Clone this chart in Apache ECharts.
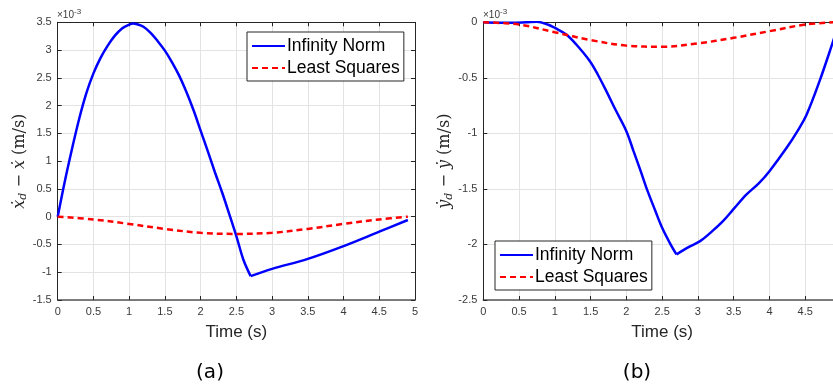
<!DOCTYPE html>
<html>
<head>
<meta charset="utf-8">
<script src="https://cdn.jsdelivr.net/npm/echarts@6/dist/echarts.min.js"></script>
<style>
html,body{margin:0;padding:0;background:#fff;}
#c{width:833px;height:391px;}
</style>
</head>
<body>
<div id="c"></div>
<script>
// ---- data (values in units of 1e-3 m/s) ----
const seriesNames = ['Infinity Norm', 'Least Squares'];

// (a) x-velocity error — Infinity Norm, before and after the switching point at t = 2.7 s
const tA_inf1 = [0, 0.1, 0.2, 0.3, 0.4, 0.5, 0.6, 0.7, 0.8, 0.9, 1.0, 1.06, 1.1, 1.2, 1.3, 1.4, 1.5, 1.6, 1.7, 1.8, 1.9, 2.0, 2.1, 2.2, 2.3, 2.4, 2.5, 2.6, 2.7];
const vA_inf1 = [0, 0.64, 1.22, 1.76, 2.22, 2.58, 2.86, 3.08, 3.26, 3.39, 3.46, 3.48, 3.47, 3.42, 3.31, 3.16, 2.99, 2.78, 2.54, 2.25, 1.92, 1.55, 1.18, 0.8, 0.44, 0.05, -0.35, -0.78, -1.07];
const tA_inf2 = [2.7, 3.0, 3.5, 4.0, 4.5, 4.9];
const vA_inf2 = [-1.07, -0.94, -0.76, -0.53, -0.27, -0.06];
const tA_ls = [0, 0.5, 1.0, 1.5, 2.0, 2.5, 3.0, 3.5, 4.0, 4.5, 4.9];
const vA_ls = [0, -0.05, -0.13, -0.22, -0.29, -0.31, -0.29, -0.22, -0.13, -0.05, 0];

// (b) y-velocity error — Infinity Norm, before and after t = 2.7 s
const tB_inf1 = [0, 0.2, 0.4, 0.6, 0.75, 0.9, 1.0, 1.16, 1.3, 1.49, 1.6, 1.72, 1.85, 2.0, 2.1, 2.2, 2.28, 2.4, 2.5, 2.61, 2.7];
const vB_inf1 = [0, -0.004, -0.004, 0.0, 0.004, -0.02, -0.05, -0.11, -0.2, -0.35, -0.47, -0.62, -0.79, -0.98, -1.16, -1.34, -1.49, -1.69, -1.85, -1.99, -2.09];
const tB_inf2 = [2.7, 2.85, 3.03, 3.2, 3.35, 3.5, 3.68, 3.85, 4.0, 4.24, 4.4, 4.52, 4.7, 4.88, 4.95];
const vB_inf2 = [-2.09, -2.03, -1.97, -1.88, -1.79, -1.68, -1.55, -1.45, -1.34, -1.13, -0.97, -0.83, -0.53, -0.19, -0.05];
const tB_ls = [0, 0.5, 1.0, 1.5, 2.0, 2.5, 3.0, 3.5, 4.0, 4.5, 4.9];
const vB_ls = [0, -0.02, -0.09, -0.16, -0.21, -0.22, -0.19, -0.14, -0.08, -0.02, 0];

const zip = (t, v) => t.map((x, i) => [x, v[i]]);

const axisColor = '#262626';
const gridColor = '#e3e3e3';
const tickFont = {fontFamily: 'Liberation Sans, Arial, sans-serif', fontSize: 11, color: '#3a3a3a'};

function xAxes(gridIndex) {
  return [{
    type: 'value', gridIndex, position: 'bottom', min: 0, max: 5, interval: 0.5,
    axisLine: {show: true, onZero: false, lineStyle: {color: '#555555', width: 1.5}},
    axisTick: {show: true, inside: true, length: 4, lineStyle: {color: axisColor}},
    axisLabel: Object.assign({margin: 6, showMaxLabel: true}, tickFont),
    splitLine: {show: true, lineStyle: {color: gridColor, width: 1}},
    name: 'Time (s)', nameLocation: 'middle', nameGap: 24,
    nameTextStyle: {fontFamily: 'Liberation Sans, Arial, sans-serif', fontSize: 17, color: '#262626'}
  }, {
    type: 'value', gridIndex, position: 'top', min: 0, max: 5, interval: 0.5,
    axisLine: {show: true, onZero: false, lineStyle: {color: axisColor, width: 1}},
    axisTick: {show: true, inside: true, length: 4, lineStyle: {color: axisColor}},
    axisLabel: {show: false}, splitLine: {show: false}
  }];
}

function yAxes(gridIndex, min, max, nameRich) {
  return [{
    type: 'value', gridIndex, position: 'left', min, max, interval: 0.5,
    axisLine: {show: true, onZero: false, lineStyle: {color: axisColor, width: 1}},
    axisTick: {show: true, inside: true, length: 4, lineStyle: {color: axisColor}},
    axisLabel: Object.assign({margin: 6}, tickFont),
    splitLine: {show: true, lineStyle: {color: gridColor, width: 1}},
    name: nameRich, nameLocation: 'middle', nameGap: 26, nameRotate: 90,
    nameTextStyle: {
      color: '#262626',
      rich: {
        i: {fontFamily: 'DejaVu Serif', fontStyle: 'italic', fontSize: 16, color: '#262626'},
        s: {fontFamily: 'DejaVu Serif', fontStyle: 'italic', fontSize: 11, color: '#262626', padding: [8, 0, 0, 0]},
        n: {fontFamily: 'DejaVu Serif', fontSize: 16, color: '#262626'}
      }
    }
  }, {
    type: 'value', gridIndex, position: 'right', min, max, interval: 0.5,
    axisLine: {show: true, onZero: false, lineStyle: {color: axisColor, width: 1}},
    axisTick: {show: true, inside: true, length: 4, lineStyle: {color: axisColor}},
    axisLabel: {show: false}, splitLine: {show: false}
  }];
}

function legend(left, top) {
  return {
    data: seriesNames, orient: 'vertical', left, top,
    backgroundColor: '#fff', borderColor: '#262626', borderWidth: 1,
    padding: [5, 4, 4, 4], itemGap: 4, itemWidth: 33, itemHeight: 14,
    itemStyle: {opacity: 0},
    textStyle: {fontFamily: 'Liberation Sans, Arial, sans-serif', fontSize: 17.5, color: '#000', padding: [0, 0, 0, -3]},
    selectedMode: false
  };
}

function lineSeries(name, xIdx, yIdx, data, color, dashed) {
  return {
    name, type: 'line', xAxisIndex: xIdx, yAxisIndex: yIdx, data,
    symbol: 'none', showSymbol: false, smooth: 0.35, animation: false, z: dashed ? 3 : 2,
    lineStyle: {color, width: 2.5, type: dashed ? [6, 4] : 'solid'},
    itemStyle: {color}
  };
}

const option = {
  animation: false,
  grid: [
    {left: 57.7, top: 22.3, width: 357.3, height: 277.7, show: false, outerBoundsMode: 'none', containLabel: false},
    {left: 483.3, top: 22.3, width: 357.7, height: 277.7, show: false, outerBoundsMode: 'none', containLabel: false}
  ],
  xAxis: [...xAxes(0), ...xAxes(1)],
  yAxis: [
    ...yAxes(0, -1.5, 3.5, '{i|ẋ}{s|d}{n| − }{i|ẋ}{n| (m/s)}'),
    ...yAxes(1, -2.5, 0, '{i|ẏ}{s|d}{n| − }{i|ẏ}{n| (m/s)}')
  ],
  legend: [legend(247, 32), legend(495, 241)],
  series: [
    lineSeries(seriesNames[0], 0, 0, zip(tA_inf1, vA_inf1), '#0000ff', false),
    lineSeries(seriesNames[0], 0, 0, zip(tA_inf2, vA_inf2), '#0000ff', false),
    lineSeries(seriesNames[1], 0, 0, zip(tA_ls, vA_ls), '#ff0000', true),
    lineSeries(seriesNames[0], 2, 2, zip(tB_inf1, vB_inf1), '#0000ff', false),
    lineSeries(seriesNames[0], 2, 2, zip(tB_inf2, vB_inf2), '#0000ff', false),
    lineSeries(seriesNames[1], 2, 2, zip(tB_ls, vB_ls), '#ff0000', true)
  ],
  graphic: [
    {type: 'text', left: 57, top: 8, style: {text: '{a|×10}{b|-3}', rich: {
      a: {fontFamily: 'Liberation Sans, Arial', fontSize: 10, fill: '#3a3a3a'},
      b: {fontFamily: 'Liberation Sans, Arial', fontSize: 8, fill: '#3a3a3a', padding: [0, 0, 7, 0]}}}},
    {type: 'text', left: 483, top: 8, style: {text: '{a|×10}{b|-3}', rich: {
      a: {fontFamily: 'Liberation Sans, Arial', fontSize: 10, fill: '#3a3a3a'},
      b: {fontFamily: 'Liberation Sans, Arial', fontSize: 8, fill: '#3a3a3a', padding: [0, 0, 7, 0]}}}},
    {type: 'text', x: 210, y: 373, style: {text: '(a)', fontFamily: 'DejaVu Sans', fontSize: 20, fill: '#000', align: 'center', verticalAlign: 'middle'}},
    {type: 'text', x: 637, y: 373, style: {text: '(b)', fontFamily: 'DejaVu Sans', fontSize: 20, fill: '#000', align: 'center', verticalAlign: 'middle'}}
  ]
};

const chart = echarts.init(document.getElementById('c'), null, {renderer: 'canvas'});
chart.setOption(option);
</script>
</body>
</html>
